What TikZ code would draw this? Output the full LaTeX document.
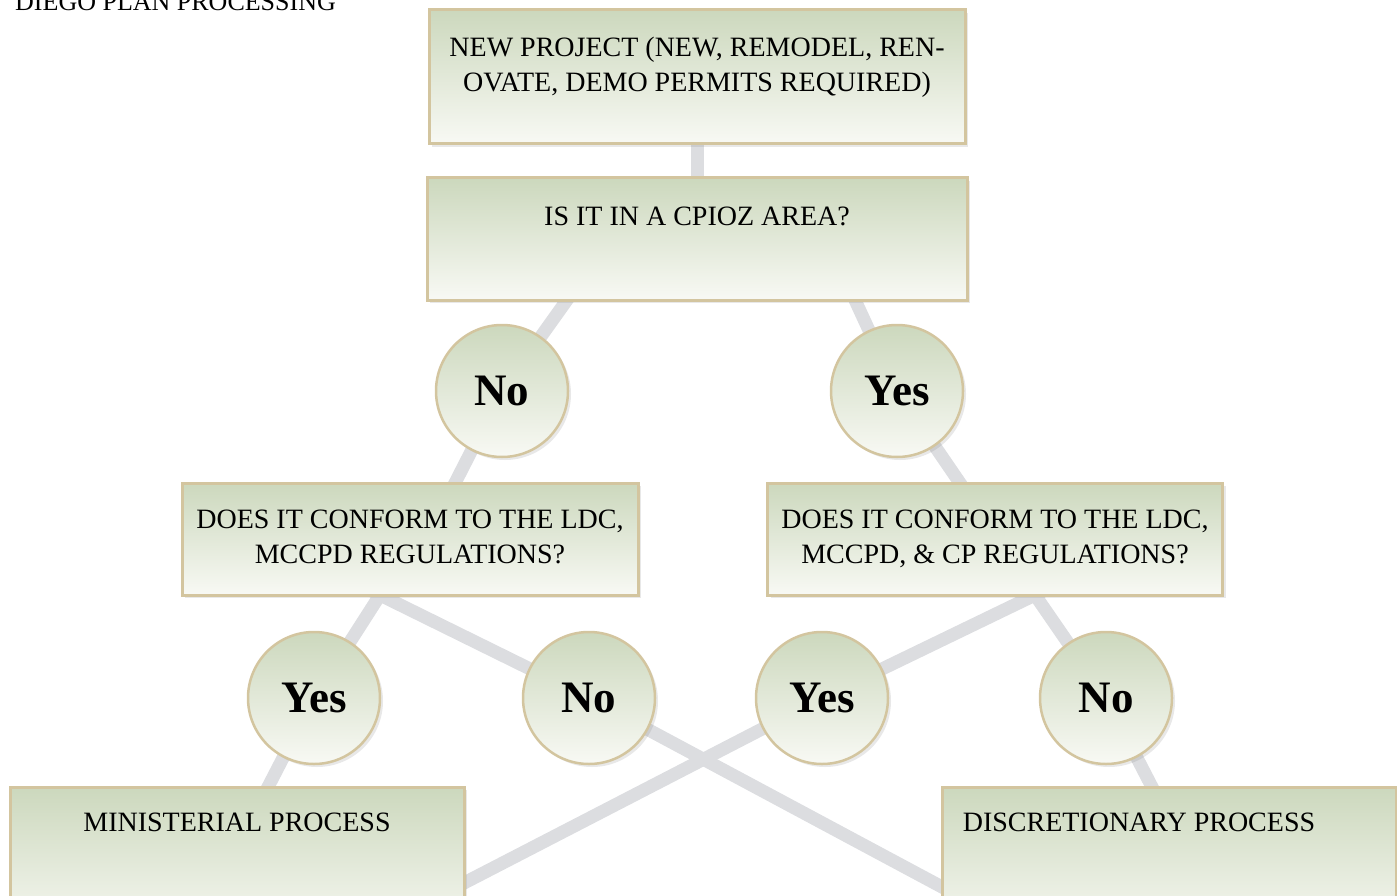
\documentclass[tikz,border=0pt]{standalone}
\usepackage{fontspec}
\setmainfont{Liberation Serif}
\usetikzlibrary{positioning}
\usetikzlibrary{shadows}
\usetikzlibrary{backgrounds}

\definecolor{leaf}{HTML}{CCD8BD}
\definecolor{paper}{HTML}{F8F9F4}
\definecolor{rim}{HTML}{D3C59F}
\definecolor{wirecolor}{HTML}{DCDDE0}

\tikzset{
    panel/.style={rectangle, draw=rim, line width=3pt, top color=leaf, bottom color=paper, outer sep=0pt, drop shadow={opacity=0.18, shadow xshift=3pt, shadow yshift=-3pt}},
    answer/.style={circle, draw=rim, line width=2.5pt, top color=leaf, bottom color=paper, minimum size=132pt, inner sep=0pt, outer sep=0pt, font=\fontsize{45}{50}\selectfont\bfseries, drop shadow={opacity=0.18, shadow xshift=3pt, shadow yshift=-3pt}},
    caption/.style={inner sep=0pt, align=center, font=\fontsize{28}{35}\selectfont},
    wire/.style={draw=wirecolor, line width=13pt, shorten <=-15pt, shorten >=-15pt}
}

\begin{document}
\begin{tikzpicture}[x=1pt, y=-1pt]
    \useasboundingbox (0,0) rectangle (1397,896);
    \node (title) [anchor=base west, inner sep=0pt, font=\fontsize{26}{30}\selectfont] at (15,11) {DIEGO PLAN PROCESSING};
    \node (new) [panel, minimum width=536pt, minimum height=134pt] at (697,77) {};
    \node (cpioz) [panel, minimum width=540pt, minimum height=122pt, below=34pt of new] {};
    \node (no1) [answer, below=25pt of cpioz, xshift=-195pt] {No};
    \node (yes1) [answer, below=25pt of cpioz, xshift=200pt] {Yes};
    \node (ldc) [panel, minimum width=456pt, minimum height=112pt, below=26pt of no1, xshift=-92pt] {};
    \node (ldccp) [panel, minimum width=455pt, minimum height=112pt, below=26pt of yes1, xshift=98pt] {};
    \node (yes2) [answer, below=37pt of ldc, xshift=-96pt] {Yes};
    \node (no2) [answer, below=37pt of ldc, xshift=179pt] {No};
    \node (yes3) [answer, below=37pt of ldccp, xshift=-173pt] {Yes};
    \node (no3) [answer, below=37pt of ldccp, xshift=111pt] {No};
    \node (min) [panel, minimum width=454pt, minimum height=150pt, below=23pt of yes2, xshift=-77pt] {};
    \node (disc) [panel, minimum width=454pt, minimum height=150pt, below=23pt of no3, xshift=63pt] {};
    % box texts sit near the top edge
    \node (newtxt) [caption, below=27pt of new.north] {NEW PROJECT (NEW, REMODEL, REN-\\OVATE, DEMO PERMITS REQUIRED)};
    \node (cpioztxt) [caption, below=29pt of cpioz.north] {IS IT IN A CPIOZ AREA?};
    \node (ldctxt) [caption, below=27pt of ldc.north] {DOES IT CONFORM TO THE LDC,\\MCCPD REGULATIONS?};
    \node (ldccptxt) [caption, below=27pt of ldccp.north] {DOES IT CONFORM TO THE LDC,\\MCCPD, \& CP REGULATIONS?};
    \node (mintxt) [caption, below=26pt of min.north] {MINISTERIAL PROCESS};
    \node (disctxt) [caption, below=26pt of disc.north, xshift=-30pt] {DISCRETIONARY PROCESS};
    \begin{scope}[on background layer]
        \draw[wire] (new) -- (cpioz);
        \draw[wire] ([xshift=-130pt]cpioz.south) -- (no1);
        \draw[wire] ([xshift=158pt]cpioz.south) -- (yes1);
        \draw[wire] (no1) -- ([xshift=45pt]ldc.north);
        \draw[wire] (yes1) -- ([xshift=-35pt]ldccp.north);
        \draw[wire] ([xshift=-30pt]ldc.south) -- (yes2);
        \draw[wire] ([xshift=-30pt]ldc.south) -- (no2);
        \draw[wire] ([xshift=40pt]ldccp.south) -- (yes3);
        \draw[wire] ([xshift=40pt]ldccp.south) -- (no3);
        \draw[wire] (yes2) -- ([xshift=31pt]min.north);
        \draw[wire] (no2) -- ([yshift=-100pt]disc.north west);
        \draw[wire] (yes3) -- ([yshift=-96pt]min.north east);
        \draw[wire] (no3) -- ([xshift=-17pt]disc.north);
    \end{scope}
\end{tikzpicture}
\end{document}
